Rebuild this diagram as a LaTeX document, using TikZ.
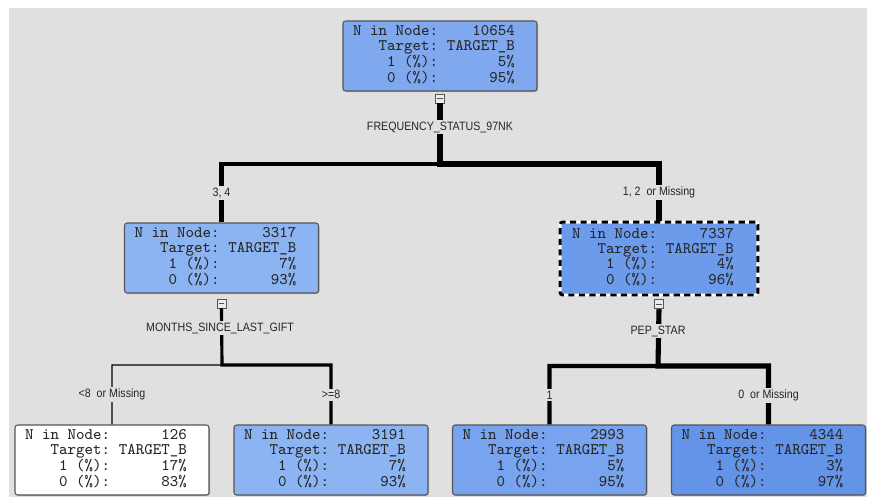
\documentclass[tikz,border=0pt]{standalone}
\usepackage{fontspec}
\setsansfont{Liberation Sans}
\newfontfamily\splitfont[FakeStretch=0.88]{Liberation Sans}
\usepackage{tikz}
\usepackage{xcolor}
\usetikzlibrary{positioning, shadows}
\definecolor{TreeGray}{HTML}{E0E0E0}
\definecolor{TreeRoot}{HTML}{80A8EE}
\definecolor{TreeLight}{HTML}{8DB4F2}
\definecolor{TreeMid}{HTML}{78A3EE}
\definecolor{TreeDark}{HTML}{6D9BEC}
\definecolor{TreeDeep}{HTML}{6494E8}
\definecolor{TreeEdge}{HTML}{555555}
\newcommand{\treestats}[3]{%
    \begin{tabular}{@{}r@{\hspace{5pt}}r@{}}
        N in Node: & #1\\
        Target: & TARGET\_B\\
        1 (\%): & #2\%\\
        0 (\%): & #3\%
    \end{tabular}\hspace{0.24cm}\null}
\tikzset{
    % Tree node box
    leafbox/.style={
        rectangle,
        rounded corners=1.5pt,
        draw=TreeEdge,
        line width=0.6pt,
        minimum width=3.88cm,
        minimum height=1.4cm,
        inner sep=0pt,
        text=black!85,
        drop shadow={shadow xshift=0.6pt, shadow yshift=-0.6pt, fill=black!45},
        font=\ttfamily\fontsize{9.2}{8.5}\selectfont
    },
    % Selected node
    selected/.style={
        leafbox,
        draw=white,
        line width=1.7pt,
        minimum width=3.96cm,
        minimum height=1.46cm,
        postaction={draw=black, line width=1.7pt, dash pattern=on 3.5pt off 2.5pt}
    },
    % Collapse toggle
    toggle/.style={
        rectangle,
        draw=TreeEdge,
        fill=white!85!gray,
        line width=0.5pt,
        minimum size=0.18cm,
        inner sep=0pt,
        path picture={\draw[line width=0.5pt] ([xshift=1pt]path picture bounding box.west) -- ([xshift=-1pt]path picture bounding box.east);}
    },
    % Branch line
    branch/.style={
        draw=black,
        line join=miter
    },
    % Label cut into a branch
    cut/.style={
        fill=TreeGray,
        inner sep=1pt,
        text=black!85,
        font=\splitfont\fontsize{6.9}{8}\selectfont
    }
}
\begin{document}
\begin{tikzpicture}[x=0.02cm, y=-0.02cm]
    \useasboundingbox (0,0) rectangle (869,497);
    \fill[TreeGray] (9,8) rectangle (867,497);

    % Decision tree
    \node (freq) [leafbox, fill=TreeRoot] at (440,56) {\treestats{10654}{5}{95}};
    \node (months) [leafbox, fill=TreeLight] at (221.5,258) {\treestats{3317}{7}{93}};
    \node (pep) [selected, fill=TreeDark] at (659,258.5) {\treestats{7337}{4}{96}};
    \node (lt8) [leafbox, fill=white] at (112,460) {\treestats{126}{17}{83}};
    \node (ge8) [leafbox, fill=TreeLight] at (331,460) {\treestats{3191}{7}{93}};
    \node (pepone) [leafbox, fill=TreeMid] at (549.5,460) {\treestats{2993}{5}{95}};
    \node (pepzero) [leafbox, fill=TreeDeep] at (768.5,460) {\treestats{4344}{3}{97}};

    \node (tfreq) [toggle, below=0.04cm of freq] {};
    \node (tmonths) [toggle, below=0.1cm of months] {};
    \node (tpep) [toggle, below=0.06cm of pep] {};

    \coordinate (sfreq) at (440,164);
    \coordinate (smonths) at (222,365);
    \coordinate (spep) at (658,366);

    \draw [branch, line width=2.3pt] (tfreq.south) -- (sfreq) -| node[cut, pos=0.75] {3, 4} (months.north);
    \draw [branch, line width=3.6pt] (tfreq.south) -- (sfreq) -| node[cut, pos=0.75] {1, 2 \ or Missing} (pep.north);
    \draw [branch, line width=0.6pt] (tmonths.south) -- (smonths) -| node[cut, pos=0.75] {<8 \ or Missing} (lt8.north);
    \draw [branch, line width=1.8pt] (tmonths.south) -- (smonths) -| node[cut, pos=0.75] {>=8} (ge8.north);
    \draw [branch, line width=2.3pt] (tpep.south) -- (spep) -| node[cut, pos=0.75] {1} (pepone.north);
    \draw [branch, line width=2.9pt] (tpep.south) -- (spep) -| node[cut, pos=0.75] {0 \ or Missing} (pepzero.north);

    % Split variables
    \node (vfreq) [cut] at (440,127) {FREQUENCY\_STATUS\_97NK};
    \node (vmonths) [cut] at (220,328) {MONTHS\_SINCE\_LAST\_GIFT};
    \node (vpep) [cut] at (658,331) {PEP\_STAR};
\end{tikzpicture}
\end{document}
